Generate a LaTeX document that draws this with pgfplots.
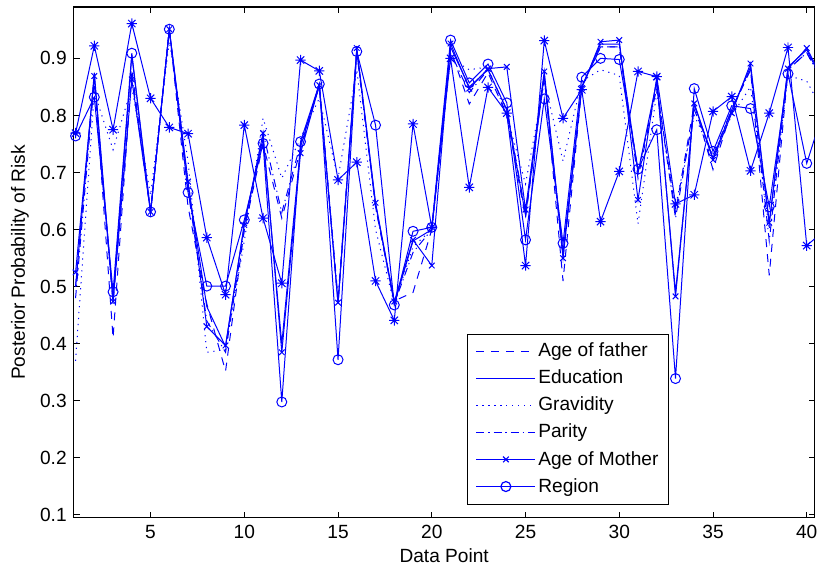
\documentclass[border=0pt]{standalone}
\usepackage{pgfplots}
\pgfplotsset{compat=1.18}
\usepackage{pgfplotstable}
\usepackage{fontspec}
\setmainfont{Liberation Sans}

\pgfdeclareplotmark{mstar}{%
  \pgfpathmoveto{\pgfqpoint{-\pgfplotmarksize}{0pt}}\pgfpathlineto{\pgfqpoint{\pgfplotmarksize}{0pt}}%
  \pgfpathmoveto{\pgfqpoint{0pt}{-\pgfplotmarksize}}\pgfpathlineto{\pgfqpoint{0pt}{\pgfplotmarksize}}%
  \pgfpathmoveto{\pgfqpoint{-0.707\pgfplotmarksize}{-0.707\pgfplotmarksize}}\pgfpathlineto{\pgfqpoint{0.707\pgfplotmarksize}{0.707\pgfplotmarksize}}%
  \pgfpathmoveto{\pgfqpoint{-0.707\pgfplotmarksize}{0.707\pgfplotmarksize}}\pgfpathlineto{\pgfqpoint{0.707\pgfplotmarksize}{-0.707\pgfplotmarksize}}%
  \pgfusepathqstroke}

\pgfplotstableread{
x  A     E     G     P     M     R     S
1  0.50  0.50  0.37  0.48  0.525 0.764 0.769
2  0.87  0.875 0.84  0.86  0.869 0.832 0.922
3  0.41  0.475 0.74  0.47  0.474 0.491 0.775
4  0.88  0.905 0.85  0.87  0.863 0.909 0.961
5  0.63  0.63  0.66  0.63  0.631 0.631 0.830
6  0.95  0.95  0.93  0.95  0.951 0.951 0.779
7  0.64  0.68  0.72  0.67  0.684 0.665 0.768
8  0.47  0.465 0.385 0.44  0.430 0.501 0.586
9  0.352 0.395 0.39  0.385 0.397 0.501 0.486
10 0.60  0.61  0.58  0.60  0.608 0.617 0.783
11 0.75  0.76  0.795 0.77  0.769 0.751 0.620
12 0.62  0.40  0.69  0.63  0.385 0.298 0.506
13 0.74  0.745 0.76  0.75  0.734 0.754 0.897
14 0.855 0.855 0.83  0.85  0.853 0.855 0.878
15 0.47  0.47  0.69  0.48  0.472 0.372 0.687
16 0.915 0.915 0.88  0.91  0.918 0.912 0.718
17 0.64  0.645 0.60  0.64  0.647 0.783 0.510
18 0.475 0.47  0.47  0.47  0.474 0.468 0.441
19 0.49  0.58  0.57  0.56  0.582 0.597 0.785
20 0.60  0.60  0.60  0.60  0.537 0.604 0.604
21 0.915 0.92  0.90  0.91  0.926 0.932 0.900
22 0.82  0.85  0.88  0.84  0.847 0.857 0.674
23 0.875 0.88  0.885 0.88  0.882 0.890 0.849
24 0.80  0.81  0.80  0.81  0.885 0.822 0.804
25 0.62  0.625 0.68  0.63  0.635 0.582 0.537
26 0.87  0.87  0.86  0.865 0.877 0.829 0.931
27 0.51  0.56  0.72  0.55  0.55  0.576 0.795
28 0.85  0.85  0.86  0.85  0.848 0.867 0.845
29 0.92  0.925 0.88  0.92  0.929 0.900 0.614
30 0.92  0.925 0.87  0.92  0.932 0.898 0.702
31 0.70  0.70  0.61  0.69  0.652 0.706 0.877
32 0.85  0.86  0.84  0.85  0.867 0.775 0.868
33 0.63  0.49  0.64  0.62  0.483 0.339 0.645
34 0.82  0.82  0.80  0.81  0.821 0.847 0.661
35 0.705 0.725 0.73  0.73  0.722 0.737 0.807
36 0.81  0.81  0.80  0.81  0.804 0.817 0.833
37 0.88  0.885 0.85  0.88  0.891 0.812 0.703
38 0.52  0.61  0.60  0.58  0.612 0.640 0.804
39 0.88  0.885 0.87  0.88  0.882 0.873 0.919
40 0.91  0.915 0.86  0.91  0.918 0.716 0.572
41 0.85  0.85  0.80  0.85  0.855 0.82  0.60
}\datatable

\begin{document}
\begin{tikzpicture}[font=\fontsize{9.6}{11.5}\selectfont]
\begin{axis}[
  scale only axis, width=372pt, height=256.5pt,
  xmin=0.9, xmax=40.42, ymin=0.095, ymax=0.99,
  xtick={5,10,15,20,25,30,35,40},
  ytick={0.1,0.2,0.3,0.4,0.5,0.6,0.7,0.8,0.9},
  yticklabels={0.1,0.2,0.3,0.4,0.5,0.6,0.7,0.8,0.9},
  tick align=inside, tick pos=both, major tick length=3pt,
  tick style={black, line width=0.5pt},
  axis line style={line width=0.6pt},
  /pgf/number format/assume math mode=true,
  xlabel={Data Point}, ylabel={Posterior Probability of Risk},
  xlabel style={at={(axis description cs:0.5,-0.074)}, anchor=center},
  ylabel style={at={(axis description cs:-0.0726,0.5)}, anchor=center},
  legend cell align=left,
  legend style={at={(0.804,0.025)}, anchor=south east, line width=0.6pt, fill=white,
    row sep=2.2pt, inner xsep=4pt, inner ysep=3pt,
    nodes={inner sep=1.2pt, text height=7pt, text depth=2pt}},
  legend image code/.code={\path[line width=0.6pt,mark repeat=2,mark phase=2,#1,draw=blue] plot coordinates {(0cm,0.3pt) (0.52cm,0.3pt) (1.04cm,0.3pt)};},
  every axis plot/.append style={line width=0.5pt},
]
\addplot[draw=blue, color=blue, dash pattern=on 4pt off 3.5pt] table[x=x,y=A] {\datatable};
\addlegendentry{Age of father}
\addplot[draw=blue, color=blue] table[x=x,y=E] {\datatable};
\addlegendentry{Education}
\addplot[draw=blue, color=blue, dash pattern=on 0.6pt off 2.4pt] table[x=x,y=G] {\datatable};
\addlegendentry{Gravidity}
\addplot[draw=blue, color=blue, dash pattern=on 4pt off 2pt on 0.6pt off 2pt] table[x=x,y=P] {\datatable};
\addlegendentry{Parity}
\addplot[draw=blue, color=blue, mark=x, mark size=2pt, mark options={solid, draw=blue}] table[x=x,y=M] {\datatable};
\addlegendentry{Age of Mother}
\addplot[draw=blue, color=blue, mark=o, mark size=2.5pt, mark options={solid, draw=blue}] table[x=x,y=R] {\datatable};
\addlegendentry{Region}
\addplot[draw=blue, color=blue, mark=mstar, mark size=2.6pt, mark options={solid, draw=blue}, forget plot] table[x=x,y=S] {\datatable};
\end{axis}
\path (current axis.south west) ++(-37pt,-27pt) coordinate (bl);
\path (current axis.north east) ++(3pt,3.5pt) coordinate (tr);
\path (bl) rectangle (tr);
\end{tikzpicture}
\end{document}
